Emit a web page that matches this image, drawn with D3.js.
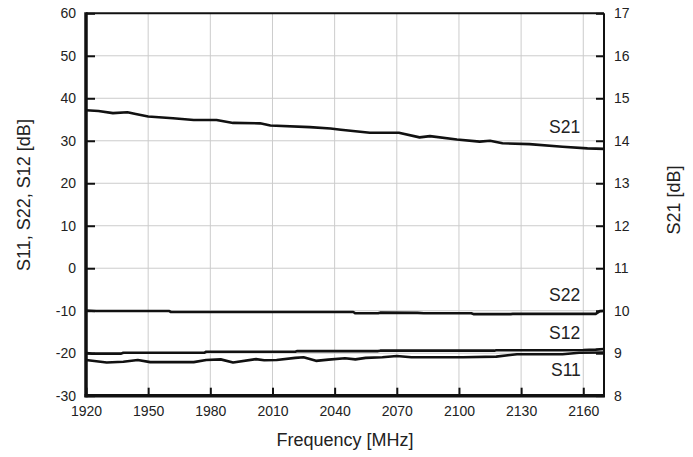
<!DOCTYPE html>
<html>
<head>
<meta charset="utf-8">
<script src="https://cdn.jsdelivr.net/npm/d3@7"></script>
<style>
  body { margin: 0; background: #fff; }
  svg text { font-family: Arial, "Liberation Sans", sans-serif; fill: #222; }
</style>
</head>
<body>
<svg id="chart" width="693" height="457"></svg>
<script>
// Tick values for the three axes.
var freqTicks = [1920, 1950, 1980, 2010, 2040, 2070, 2100, 2130, 2160];
var leftTicks = [-30, -20, -10, 0, 10, 20, 30, 40, 50, 60];
var rightTicks = [8, 9, 10, 11, 12, 13, 14, 15, 16, 17];

// S21 is read against the right axis (dB).
var s21Freq = [1920, 1926, 1933, 1940, 1944, 1950, 1962, 1972, 1983, 1991, 2004, 2009, 2028, 2038, 2043, 2057, 2071, 2081, 2086, 2099, 2110, 2115, 2121, 2134, 2150, 2162, 2170];
var s21Val = [14.72, 14.70, 14.65, 14.67, 14.63, 14.57, 14.53, 14.49, 14.49, 14.42, 14.41, 14.36, 14.32, 14.29, 14.26, 14.19, 14.19, 14.08, 14.11, 14.03, 13.98, 14.00, 13.94, 13.92, 13.86, 13.82, 13.81];

// S22, S12, S11 are read against the left axis (dB).
var s22Freq = [1920, 1925, 1960, 1961, 2049, 2050, 2061, 2062, 2080, 2083, 2106, 2107, 2125, 2126, 2166, 2168, 2170];
var s22Val = [-9.95, -10.05, -10.05, -10.3, -10.3, -10.6, -10.6, -10.45, -10.5, -10.6, -10.6, -10.8, -10.8, -10.75, -10.75, -10.1, -10.0];

var s12Freq = [1920, 1923, 1937, 1938, 1977, 1978, 2021, 2022, 2061, 2062, 2117, 2118, 2150, 2160, 2166, 2170];
var s12Val = [-19.95, -20.1, -20.1, -19.9, -19.9, -19.65, -19.65, -19.5, -19.5, -19.4, -19.4, -19.3, -19.3, -19.25, -19.15, -19.0];

var s11Freq = [1920, 1925, 1930, 1938, 1945, 1951, 1960, 1972, 1978, 1985, 1991, 2002, 2006, 2012, 2021, 2025, 2031, 2037, 2045, 2050, 2055, 2063, 2070, 2077, 2086, 2102, 2118, 2128, 2150, 2158, 2170];
var s11Val = [-21.6, -21.9, -22.2, -22.0, -21.6, -22.1, -22.1, -22.1, -21.6, -21.45, -22.2, -21.4, -21.65, -21.6, -21.1, -20.95, -21.8, -21.5, -21.2, -21.45, -21.1, -20.95, -20.65, -20.95, -20.95, -20.95, -20.8, -20.25, -20.25, -19.9, -19.85];

(function () {
  "use strict";
  var svg = d3.select("#chart");
  var left = 86, right = 604, top = 13.3, bottom = 395.7;

  var x = d3.scaleLinear().domain([1920, 2170]).range([left, right]);
  var yL = d3.scaleLinear().domain([-30, 60]).range([bottom, top]);
  var yR = d3.scaleLinear().domain([8, 17]).range([bottom, top]);

  // Light grid lines behind the curves.
  var grid = svg.append("g").attr("stroke", "#cccccc").attr("stroke-width", 1);
  grid.selectAll("line.v")
    .data(freqTicks.slice(1))
    .enter().append("line")
      .attr("x1", function(d) { return x(d); })
      .attr("x2", function(d) { return x(d); })
      .attr("y1", top).attr("y2", bottom);
  grid.selectAll("line.h")
    .data(leftTicks.slice(1, -1))
    .enter().append("line")
      .attr("y1", function(d) { return yL(d); })
      .attr("y2", function(d) { return yL(d); })
      .attr("x1", left).attr("x2", right);

  // Axes: ticks point into the plot, labels outside.
  var axisB = d3.axisBottom(x).tickValues(freqTicks).tickSizeInner(-8).tickSizeOuter(0).tickPadding(10)
    .tickFormat(d3.format("d"));
  var axisL = d3.axisLeft(yL).tickValues(leftTicks).tickSizeInner(-9).tickSizeOuter(0).tickPadding(10)
    .tickFormat(function(d) { return d < 0 ? "-" + Math.abs(d) : d; });
  var axisR = d3.axisRight(yR).tickValues(rightTicks).tickSizeInner(-8).tickSizeOuter(0).tickPadding(10);

  function styleAxis(g) {
    g.select(".domain").remove();
    g.selectAll(".tick line").attr("stroke", "#111").attr("stroke-width", 2);
    g.selectAll(".tick text").attr("font-size", 14).attr("fill", "#222")
      .style("font-family", "Arial, 'Liberation Sans', sans-serif");
  }
  svg.append("g").attr("transform", "translate(0," + bottom + ")").call(axisB).call(styleAxis);
  svg.append("g").attr("transform", "translate(" + left + ",0)").call(axisL).call(styleAxis);
  svg.append("g").attr("transform", "translate(" + right + ",0)").call(axisR).call(styleAxis);

  // Frame: heavier on the left and bottom.
  svg.append("line").attr("x1", left).attr("x2", right).attr("y1", top).attr("y2", top)
    .attr("stroke", "#111").attr("stroke-width", 2);
  svg.append("line").attr("x1", right).attr("x2", right).attr("y1", top).attr("y2", bottom)
    .attr("stroke", "#111").attr("stroke-width", 2);
  svg.append("line").attr("x1", left).attr("x2", left).attr("y1", top - 1).attr("y2", bottom + 1.5)
    .attr("stroke", "#111").attr("stroke-width", 3.5);
  svg.append("line").attr("x1", left - 1.5).attr("x2", right + 1).attr("y1", bottom).attr("y2", bottom)
    .attr("stroke", "#111").attr("stroke-width", 3.5);

  // Curves.
  function drawCurve(freqs, vals, yScale) {
    var pts = freqs.map(function(f, i) { return [f, vals[i]]; });
    var line = d3.line()
      .x(function(d) { return x(d[0]); })
      .y(function(d) { return yScale(d[1]); });
    svg.append("path").datum(pts)
      .attr("d", line)
      .attr("fill", "none")
      .attr("stroke", "#111")
      .attr("stroke-width", 2.6)
      .attr("stroke-linejoin", "round");
  }
  drawCurve(s21Freq, s21Val, yR);
  drawCurve(s22Freq, s22Val, yL);
  drawCurve(s12Freq, s12Val, yL);
  drawCurve(s11Freq, s11Val, yL);

  // Curve names.
  var names = [["S21", 549, 133], ["S22", 549, 301], ["S12", 549, 339], ["S11", 551, 376]];
  svg.selectAll("text.name")
    .data(names)
    .enter().append("text")
      .attr("class", "name")
      .attr("x", function(d) { return d[1]; })
      .attr("y", function(d) { return d[2]; })
      .attr("font-size", 17.5)
      .text(function(d) { return d[0]; });

  // Axis titles.
  svg.append("text")
    .attr("x", (left + right) / 2).attr("y", 446)
    .attr("text-anchor", "middle").attr("font-size", 18)
    .text("Frequency [MHz]");
  svg.append("text")
    .attr("transform", "translate(30,195) rotate(-90)")
    .attr("text-anchor", "middle").attr("font-size", 18)
    .text("S11, S22, S12 [dB]");
  svg.append("text")
    .attr("transform", "translate(680,200) rotate(-90)")
    .attr("text-anchor", "middle").attr("font-size", 18)
    .text("S21 [dB]");
})();
</script>
</body>
</html>
